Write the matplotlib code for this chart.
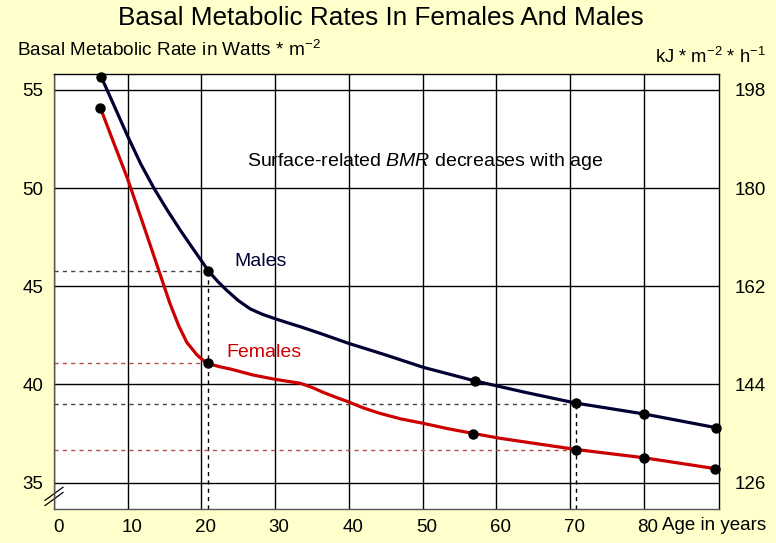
"""
Basal metabolic rate vs. age for females and males, with a second
axis in kJ per m^2 per hour (1 W = 3.6 kJ/h).
"""
import matplotlib
matplotlib.use("Agg")
import matplotlib.pyplot as plt  # noqa: E402
from matplotlib.transforms import ScaledTranslation  # noqa: E402

plt.rcParams["font.family"] = ["Liberation Sans", "DejaVu Sans"]
plt.rcParams["mathtext.fontset"] = "custom"
plt.rcParams["mathtext.rm"] = "Liberation Sans"
plt.rcParams["mathtext.it"] = "Liberation Sans:italic"

BG = "#FFFFCC"
MALE_COL = "#000033"
FEMALE_COL = "#CC0000"

# curves (age in years, W/m^2)
male_age = [6.4, 8.2, 9.95, 11.8, 13.6, 15.4, 17.1, 18.5, 19.8, 21.0, 22.2, 23.4, 25.0, 26.6,
            28.2, 29.8, 31.6, 33.4, 36.1, 39.9, 45.0, 50.1, 57.1, 63.9, 70.8, 80.0, 89.8]
male_bmr = [55.66, 54.15, 52.67, 51.2, 49.96, 48.85, 47.87, 47.1, 46.4, 45.75, 45.25, 44.8,
            44.27, 43.85, 43.58, 43.37, 43.15, 42.94, 42.6, 42.1, 41.5, 40.87, 40.18, 39.6,
            39.05, 38.5, 37.8]
female_age = [6.3, 8.1, 9.95, 11.0, 12.1, 13.0, 13.9, 14.8, 15.7, 16.9, 18.0, 19.4, 20.5, 21.0,
              22.5, 24.0, 27.0, 30.0, 33.4, 35.0, 36.5, 38.2, 39.9, 42.0, 44.2, 47.0, 50.1,
              53.4, 56.8, 60.5, 70.8, 80.0, 89.6]
female_bmr = [54.07, 52.3, 50.5, 49.35, 48.15, 47.15, 46.15, 45.15, 44.15, 43.0, 42.15, 41.5,
              41.15, 41.05, 40.9, 40.78, 40.48, 40.26, 40.06, 39.85, 39.6, 39.35, 39.12, 38.8,
              38.53, 38.25, 38.02, 37.75, 37.51, 37.26, 36.69, 36.27, 35.72]

# measured points
male_pt_age = [6.4, 20.9, 57.1, 70.8, 80.0, 89.8]
male_pt_bmr = [55.66, 45.75, 40.2, 39.05, 38.5, 37.8]
female_pt_age = [6.3, 20.9, 56.8, 70.8, 80.0, 89.6]
female_pt_bmr = [54.05, 41.1, 37.5, 36.68, 36.27, 35.72]

# points highlighted with dashed guide lines
guide_ages = [20.9, 70.8]
guide_male = [45.75, 39.0]
guide_female = [41.1, 36.65]

x_ticks = [0, 10, 20, 30, 40, 50, 60, 70, 80]
y_ticks = [35, 40, 45, 50, 55]
kj_ticks = [126, 144, 162, 180, 198]
W_TO_KJ = 3.6

fig = plt.figure(figsize=(7.76, 5.43), dpi=100, facecolor=BG)
ax = fig.add_axes([0.0696, 0.0626, 0.857, 0.801])
ax.set_facecolor("white")
xlim = (0, 90.2)
ylim = (33.66, 55.8)
ax.set_xlim(*xlim)
ax.set_ylim(*ylim)

ax.set_axisbelow(True)
ax.grid(True, color="black", linewidth=1.0)
ax.set_xticks(x_ticks, [str(t) for t in x_ticks])
ax.set_yticks(y_ticks)
ax.tick_params(length=0, labelsize=13.5)
ax.tick_params(axis="y", pad=7.5)
ax.tick_params(axis="x", pad=7)
shift = ScaledTranslation(4 / 100, 0, fig.dpi_scale_trans)
for lbl in ax.get_xticklabels():
    lbl.set_transform(lbl.get_transform() + shift)
for side in ["left", "bottom"]:
    ax.spines[side].set_color("#555555")
for side in ["top", "right"]:
    ax.spines[side].set_color("black")
for sp in ax.spines.values():
    sp.set_linewidth(1.0)

# dashed guides
for a, m, f in zip(guide_ages, guide_male, guide_female):
    ax.plot([0, a], [m, m], ls=(0, (3, 3)), color="#444444", lw=1.0, zorder=2)
    ax.plot([0, a], [f, f], ls=(0, (3, 3)), color="#B05050", lw=1.0, zorder=2)
    ax.plot([a, a], [ylim[0], m], ls=(0, (3, 3)), color="black", lw=1.0, zorder=2)

ax.plot(male_age, male_bmr, color=MALE_COL, lw=2.3, zorder=3,
        solid_capstyle="round", solid_joinstyle="round")
ax.plot(female_age, female_bmr, color=FEMALE_COL, lw=2.3, zorder=3,
        solid_capstyle="round", solid_joinstyle="round")
ax.plot(male_pt_age, male_pt_bmr, "o", color="black", ms=6.5, zorder=4, clip_on=False)
ax.plot(female_pt_age, female_pt_bmr, "o", color="black", ms=6.5, zorder=4, clip_on=False)

ax.text(24.5, 46.24, "Males", color=MALE_COL, fontsize=14, va="center", zorder=0.4)
ax.text(23.4, 41.65, "Females", color=FEMALE_COL, fontsize=14, va="center", zorder=0.4)
ax.text(50.3, 51.33, "Surface-related $\\mathit{BMR}$ decreases with age",
        ha="center", va="center", fontsize=14, zorder=0.4)

# axis break marks
for dy in (0.0, 0.012):
    ax.plot([-0.0135, 0.0135], [0.008 + dy, 0.038 + dy], color="black", lw=0.9,
            transform=ax.transAxes, clip_on=False)

# right axis in kJ
ax2 = ax.twinx()
ax2.set_ylim(ylim[0] * W_TO_KJ, ylim[1] * W_TO_KJ)
ax2.set_yticks(kj_ticks)
ax2.tick_params(length=0, labelsize=13.5, pad=11)
for sp in ax2.spines.values():
    sp.set_visible(False)

fig.text(0.491, 0.967, "Basal Metabolic Rates In Females And Males", ha="center", va="center",
         fontsize=18.8)
fig.text(0.022, 0.908, "Basal Metabolic Rate in Watts * m$^{-2}$", ha="left", va="center",
         fontsize=13.7)
fig.text(0.844, 0.895, "kJ * m$^{-2}$ * h$^{-1}$", ha="left", va="center", fontsize=13.3)
fig.text(0.853, 0.033, "Age in years", ha="left", va="center", fontsize=13.5)

fig.savefig("out.png", dpi=100, facecolor=BG)
